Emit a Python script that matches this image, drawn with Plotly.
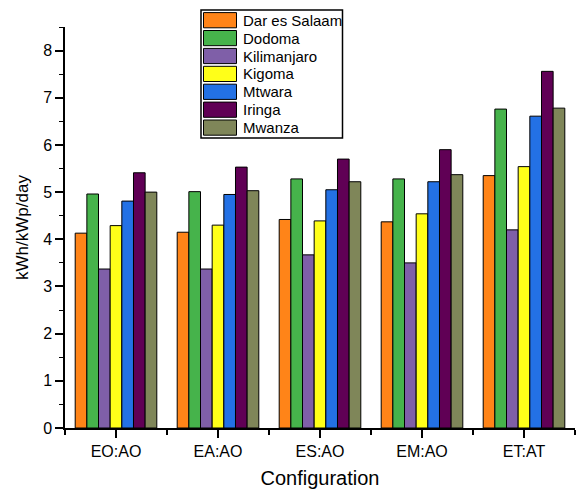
import plotly.graph_objects as go

categories = ["EO:AO", "EA:AO", "ES:AO", "EM:AO", "ET:AT"]
regions = ["Dar es Salaam", "Dodoma", "Kilimanjaro", "Kigoma", "Mtwara", "Iringa", "Mwanza"]
dar_es_salaam = [4.13, 4.15, 4.42, 4.37, 5.35]
dodoma = [4.96, 5.01, 5.28, 5.28, 6.76]
kilimanjaro = [3.37, 3.37, 3.67, 3.50, 4.20]
kigoma = [4.29, 4.30, 4.39, 4.54, 5.54]
mtwara = [4.81, 4.95, 5.05, 5.22, 6.61]
iringa = [5.41, 5.53, 5.70, 5.90, 7.56]
mwanza = [5.00, 5.03, 5.22, 5.37, 6.78]
series = [dar_es_salaam, dodoma, kilimanjaro, kigoma, mtwara, iringa, mwanza]
colors = ["#FF8418", "#46B34B", "#7F5FA8", "#FFFF19", "#2371E5", "#600055", "#7F8659"]

xpos = list(range(len(categories)))
FONT = "Liberation Sans, Arial, sans-serif"

W, H = 577, 493
ML, MR, MT, MB = 65, 2, 27, 65
PW, PH = W - ML - MR, H - MT - MB


def px_x(p):
    return (p - ML) / PW


def px_y(p):
    return (H - MB - p) / PH


fig = go.Figure()
for name, vals, col in zip(regions, series, colors):
    fig.add_trace(go.Bar(x=xpos, y=vals, name=name,
                         marker=dict(color=col, line=dict(color="black", width=1))))

# legend drawn as a framed box with swatches and labels
shapes = [dict(type="rect", xref="paper", yref="paper",
               x0=px_x(201), x1=px_x(342.5), y0=px_y(138), y1=px_y(10),
               line=dict(color="black", width=1.5), fillcolor="white", layer="above")]
annotations = []
for i, (name, col) in enumerate(zip(regions, colors)):
    yc = 20.2 + 17.9 * i
    shapes.append(dict(type="rect", xref="paper", yref="paper",
                       x0=px_x(203.5), x1=px_x(236.5), y0=px_y(yc + 7.6), y1=px_y(yc - 7.6),
                       line=dict(color="black", width=1), fillcolor=col, layer="above"))
    annotations.append(dict(text=name, xref="paper", yref="paper", x=px_x(240.5), y=px_y(yc),
                            xanchor="left", yanchor="middle", showarrow=False,
                            font=dict(family=FONT, size=15, color="black")))

fig.update_layout(
    width=W, height=H,
    margin=dict(l=ML, r=MR, t=MT, b=MB, autoexpand=False),
    paper_bgcolor="white", plot_bgcolor="white",
    barmode="group", bargap=0.2, bargroupgap=0,
    font=dict(family=FONT, size=16, color="black"),
    showlegend=False,
    shapes=shapes, annotations=annotations,
)
fig.update_xaxes(
    range=[-0.5, 4.5], tickmode="array", tickvals=xpos, ticktext=categories,
    showline=True, linecolor="black", linewidth=1.5, mirror=False,
    ticks="outside", ticklen=8, tickwidth=1.5, tickcolor="black",
    minor=dict(tickmode="linear", tick0=0.5, dtick=1, ticks="outside", ticklen=5, tickwidth=1.5, tickcolor="black"),
    showgrid=False, zeroline=False, automargin=False,
    title=dict(text="Configuration", font=dict(size=20), standoff=12),
    tickfont=dict(size=16),
)
fig.update_yaxes(
    range=[0, 8.5], dtick=1, tick0=0,
    showline=True, linecolor="black", linewidth=1.5,
    ticks="outside", ticklen=8, tickwidth=1.5, tickcolor="black",
    minor=dict(tickmode="linear", tick0=0.5, dtick=1, ticks="outside", ticklen=4, tickwidth=1, tickcolor="black"),
    showgrid=False, zeroline=False, automargin=False,
    title=dict(text="kWh/kWp/day", font=dict(size=17), standoff=10),
    tickfont=dict(size=16),
)

fig.write_html("out.html", config={"displayModeBar": False},
               post_script="document.body.style.margin='0px';document.body.style.overflow='hidden';")
